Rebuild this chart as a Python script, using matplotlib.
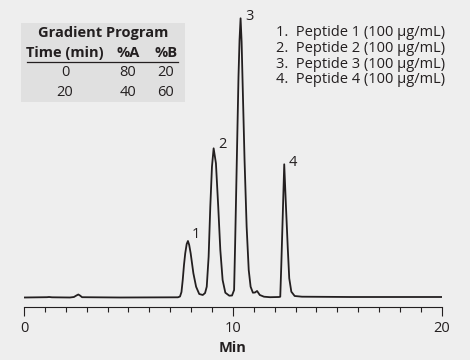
import matplotlib
matplotlib.use("Agg")
import matplotlib.pyplot as plt
from matplotlib.patches import Rectangle
from matplotlib.lines import Line2D

# ---- data (time in min, relative signal) ----
time_min = [0.00, 1.10, 1.20, 1.34, 2.20, 2.39, 2.51, 2.60, 2.68, 2.78, 4.60,
            7.37, 7.47, 7.54, 7.60, 7.66, 7.72, 7.79, 7.85, 7.91, 7.98, 8.11,
            8.24, 8.39, 8.56, 8.67, 8.75, 8.84, 8.92, 9.00, 9.08, 9.19, 9.30,
            9.40, 9.51, 9.64, 9.83, 9.96, 10.06, 10.11, 10.19, 10.27, 10.32,
            10.37, 10.42, 10.46, 10.56, 10.66, 10.76, 10.85, 10.96, 11.06,
            11.16, 11.29, 11.49, 11.78, 12.21, 12.27, 12.32, 12.39, 12.46,
            12.54, 12.63, 12.70, 12.80, 12.96, 13.31, 15.61, 20.00]
signal = [0.0, 0.3, 0.5, 0.2, 0.0, 0.5, 2.0, 3.0, 2.0, 0.3, 0.0,
          0.2, 1.0, 5.5, 17.5, 32.5, 44.2, 53.5, 56.5, 52.5, 44.2, 24.2,
          10.8, 3.5, 2.5, 4.5, 10.8, 40.8, 90.8, 130.8, 149.2, 134.2, 90.8,
          47.5, 17.5, 4.8, 1.8, 2.0, 7.5, 54.2, 137.5, 220.8, 257.5,
          279.2, 255.5, 220.8, 137.5, 70.8, 27.5, 10.8, 4.8, 5.0,
          6.5, 2.5, 0.8, 0.3, 0.5, 0.8, 32.5, 82.5, 133.2,
          92.5, 49.2, 19.2, 5.8, 1.5, 0.8, 0.5, 0.5]

peak_labels = ["1", "2", "3", "4"]
peak_times = [7.85, 9.08, 10.37, 12.46]

legend_labels = ["Peptide 1 (100 µg/mL)", "Peptide 2 (100 µg/mL)",
                 "Peptide 3 (100 µg/mL)", "Peptide 4 (100 µg/mL)"]

grad_header = ["Time (min)", "%A", "%B"]
grad_time = ["0", "20"]
grad_a = ["80", "40"]
grad_b = ["20", "60"]

x_ticks = [0, 10, 20]

# ---- styling ----
W, H = 470, 360
BG = "#eeeeee"
BOX = "#e0e0e0"
INK = "#231f20"
FONT = ["Open Sans", "DejaVu Sans"]
plt.rcParams["font.family"] = FONT

fig = plt.figure(figsize=(W / 100, H / 100), dpi=100, facecolor=BG)


def fx(px):
    return px / W


def fy(py):
    return 1 - py / H


ax = fig.add_axes([fx(24), fy(307.3), fx(441.7) - fx(24), 307.3 / H])
ax.set_facecolor(BG)
ax.patch.set_alpha(0)
ax.plot(time_min, signal, color=INK, lw=1.3, solid_joinstyle="round")
ax.set_xlim(0, 20)
ax.set_ylim(-9.8, 297.5)
for s in ["top", "left", "right"]:
    ax.spines[s].set_visible(False)
ax.spines["bottom"].set_color(INK)
ax.spines["bottom"].set_linewidth(0.8)
ax.set_yticks([])
ax.set_xticks(x_ticks)
ax.set_xticks(range(0, 21), minor=True)
ax.tick_params(axis="x", which="major", length=6.7, width=0.8, color=INK,
               labelsize=10.5, labelcolor=INK, pad=3)
ax.tick_params(axis="x", which="minor", length=3.6, width=0.8, color=INK)
ax.set_xlabel("Min", fontsize=10.5, fontweight="bold", color=INK, labelpad=4)

# peak number labels
offsets = [(6, 4.5), (6.5, 2.5), (6.5, 1), (6.5, 1.5)]
for lab, t, off in zip(peak_labels, peak_times, offsets):
    i = min(range(len(time_min)), key=lambda k: abs(time_min[k] - t))
    ax.annotate(lab, (time_min[i], signal[i]), xytext=off,
                textcoords="offset points", ha="center", va="center",
                fontsize=10.5, color=INK)

# legend text (top right)
for k, lab in enumerate(legend_labels):
    fig.text(fx(276.5), fy(33 + k * 15.5), f"{k + 1}.  {lab}", fontsize=10.5,
             color=INK, ha="left", va="center")

# gradient table (top left)
fig.patches.append(Rectangle((fx(21), fy(102)), fx(185) - fx(21), (102 - 23) / H,
                             transform=fig.transFigure, facecolor=BOX,
                             edgecolor="none", zorder=0))
fig.text(fx(103), fy(33), "Gradient Program", fontsize=10.5, fontweight="bold",
         color=INK, ha="center", va="center")
col_x = [65, 128, 166]
for cx, h in zip(col_x, grad_header):
    fig.text(fx(cx), fy(53), h, fontsize=10.5, fontweight="bold", color=INK,
             ha="center", va="center")
fig.lines.append(Line2D([fx(27), fx(178)], [fy(62), fy(62)],
                        transform=fig.transFigure, color=INK, lw=0.9))
for r, (t, a, b) in enumerate(zip(grad_time, grad_a, grad_b)):
    y = 73 + r * 19
    for cx, v in zip(col_x, (t, a, b)):
        fig.text(fx(cx), fy(y), v, fontsize=10.5, color=INK,
                 ha="center", va="center")

fig.savefig("out.png", dpi=100, facecolor=BG)
